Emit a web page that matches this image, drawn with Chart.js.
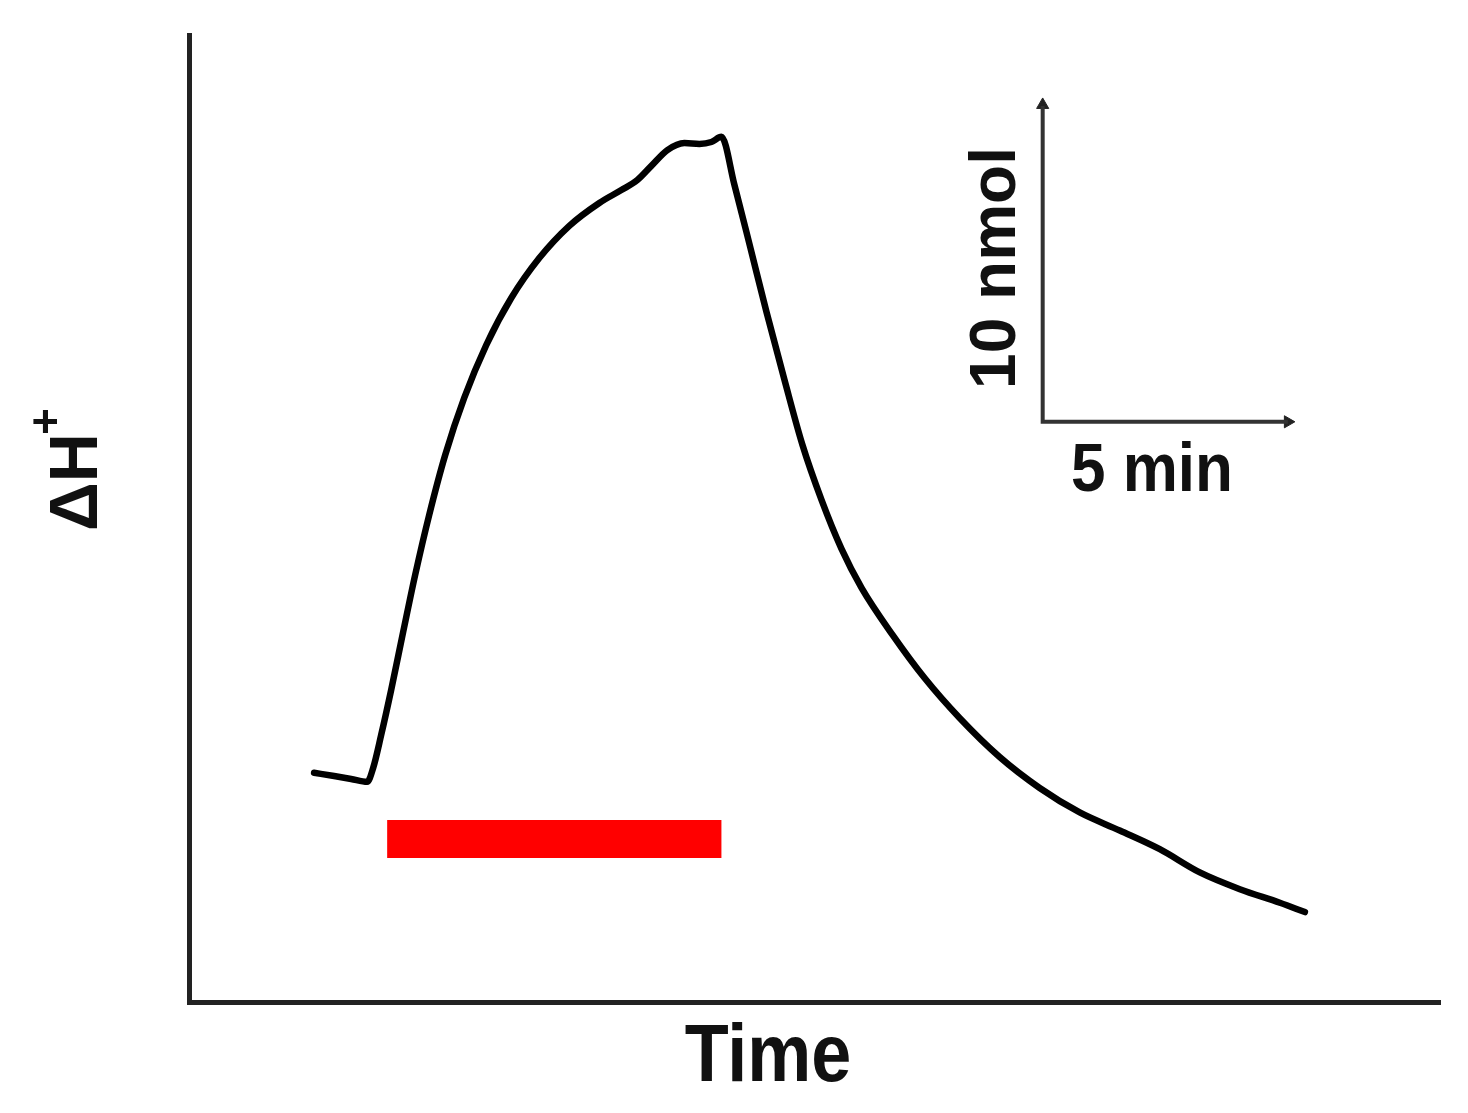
<!DOCTYPE html>
<html>
<head>
<meta charset="utf-8">
<script src="https://cdn.jsdelivr.net/npm/chart.js@4.4.1/dist/chart.umd.min.js"></script>
<style>
  html, body { margin: 0; padding: 0; background: #fff; }
  canvas { display: block; }
</style>
</head>
<body>
<canvas id="trace" width="1468" height="1113"></canvas>
<script>
// proton flux trace, x in min, y in nmol (arbitrary zero)
const traceTime = [2.50, 2.90, 3.24, 3.56, 3.68, 3.84, 4.04, 4.28, 4.52, 4.80, 5.12, 5.50, 5.94, 6.44, 7.00, 7.60, 8.20, 8.64, 8.96, 9.24, 9.56, 9.90, 10.20, 10.44, 10.64, 10.90, 11.22, 11.54, 11.90, 12.26, 12.64, 13.04, 13.44, 14.06, 14.70, 15.40, 16.20, 17.00, 17.80, 18.60, 19.40, 20.20, 21.00, 21.80, 22.30];
const traceH = [7.11, 7.01, 6.92, 6.83, 7.26, 8.28, 9.68, 11.48, 13.25, 15.11, 16.97, 18.74, 20.38, 21.84, 23.08, 24.08, 24.79, 25.19, 25.50, 25.94, 26.43, 26.65, 26.62, 26.68, 26.84, 25.35, 23.39, 21.41, 19.30, 17.28, 15.58, 14.06, 12.85, 11.39, 10.05, 8.81, 7.60, 6.64, 5.88, 5.32, 4.74, 4.02, 3.50, 3.08, 2.79];

// treatment period (red bar)
const barTime = [3.96, 10.64];
const barLevel = 5.06;

// scale bar: 5 min horizontal, 10 nmol vertical
const scaleOrigin = [17.06, 18.0];
const scaleMin = 5;
const scaleNmol = 10;

const xMax = 25;
const yMax = 30;

const curve = traceTime.map((t, i) => ({ x: t, y: traceH[i] }));
const bar = barTime.map(t => ({ x: t, y: barLevel }));
const [sx, sy] = scaleOrigin;
const scaleLines = [
    { x: sx, y: sy + scaleNmol - 0.2 },
    { x: sx, y: sy },
    { x: sx + scaleMin - 0.1, y: sy }
];
const arrowHeads = [
    { x: sx, y: sy + scaleNmol - 0.17 },
    { x: sx + scaleMin - 0.1, y: sy }
];

const labelsPlugin = {
    id: 'labels',
    afterDraw(chart) {
        const ctx = chart.ctx;
        ctx.save();
        ctx.fillStyle = '#111';
        ctx.textBaseline = 'alphabetic';

        // y title: ΔH+
        ctx.save();
        ctx.translate(97, 531);
        ctx.rotate(-Math.PI / 2);
        ctx.font = 'bold 68px "Liberation Sans", Arial, sans-serif';
        ctx.textAlign = 'left';
        ctx.fillText('ΔH', 0, 0);
        const w = ctx.measureText('ΔH').width;
        ctx.font = 'bold 46px "Liberation Sans", Arial, sans-serif';
        ctx.fillText('+', w - 2, -36);
        ctx.restore();

        // x title
        ctx.save();
        ctx.translate(768, 1081);
        ctx.scale(1, 1.12);
        ctx.font = 'bold 72px "Liberation Sans", Arial, sans-serif';
        ctx.textAlign = 'center';
        ctx.fillText('Time', 0, 0);
        ctx.restore();

        // scale bar labels
        ctx.save();
        ctx.translate(1152, 491);
        ctx.scale(1, 1.1);
        ctx.font = 'bold 62px "Liberation Sans", Arial, sans-serif';
        ctx.textAlign = 'center';
        ctx.fillText('5 min', 0, 0);
        ctx.restore();

        ctx.save();
        ctx.translate(1015, 268);
        ctx.rotate(-Math.PI / 2);
        ctx.font = 'bold 64px "Liberation Sans", Arial, sans-serif';
        ctx.textAlign = 'center';
        ctx.fillText('10 nmol', 0, 0);
        ctx.restore();

        ctx.restore();
    }
};

const chart = new Chart(document.getElementById('trace'), {
    type: 'scatter',
    data: {
        datasets: [
            {
                data: curve,
                showLine: true,
                borderColor: '#000',
                borderWidth: 6.5,
                pointRadius: 0,
                cubicInterpolationMode: 'monotone',
                borderJoinStyle: 'round',
                borderCapStyle: 'round'
            },
            {
                data: bar,
                showLine: true,
                borderColor: '#ff0000',
                borderWidth: 38,
                pointRadius: 0,
                borderCapStyle: 'butt'
            },
            {
                data: scaleLines,
                showLine: true,
                borderColor: '#333',
                borderWidth: 4,
                pointRadius: 0,
                tension: 0
            },
            {
                data: arrowHeads,
                showLine: false,
                pointStyle: 'triangle',
                pointRadius: 7,
                rotation: [0, 90],
                backgroundColor: '#222',
                borderColor: '#222',
                borderWidth: 1
            }
        ]
    },
    options: {
        responsive: false,
        animation: false,
        layout: { padding: { left: 189, right: 28, top: 35, bottom: 111 } },
        plugins: {
            legend: { display: false },
            tooltip: { enabled: false }
        },
        scales: {
            x: {
                type: 'linear',
                min: 0,
                max: xMax,
                ticks: { display: false },
                grid: { display: false, drawTicks: false },
                border: { display: true, color: '#222', width: 5 }
            },
            y: {
                type: 'linear',
                min: 0,
                max: yMax,
                ticks: { display: false },
                grid: { display: false, drawTicks: false },
                border: { display: true, color: '#222', width: 5 }
            }
        }
    },
    plugins: [labelsPlugin]
});
</script>
</body>
</html>
